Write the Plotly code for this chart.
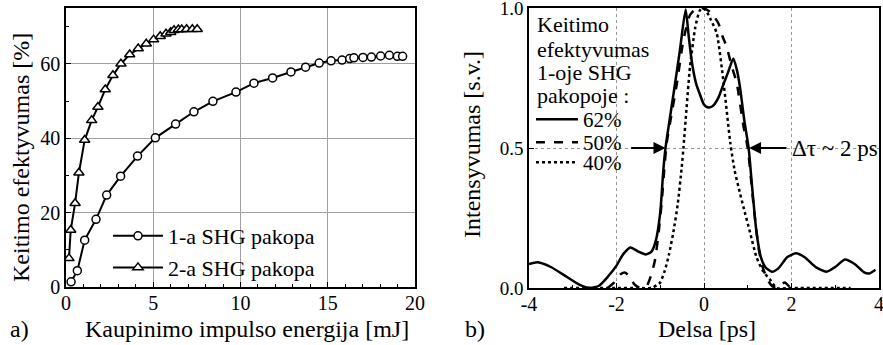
import plotly.graph_objects as go

# ---- data: left panel (conversion efficiency vs pump energy) ----
e1 = [0.29, 0.65, 1.07, 1.72, 2.33, 3.13, 4.1, 5.12, 6.28, 7.33, 8.42, 9.74, 10.77, 11.84,
      12.89, 13.73, 14.51, 15.19, 15.82, 16.26, 16.5, 17.02, 17.5, 18.03, 18.53, 18.99, 19.29]
eff1 = [1.4, 4.4, 12.6, 18.2, 24.7, 29.8, 35.2, 40.1, 43.8, 47.1, 49.9, 52.4, 54.8, 56.2,
        57.8, 59.1, 60.2, 60.8, 61.0, 61.4, 61.6, 61.7, 61.8, 62.1, 62.3, 62.0, 62.0]
e2 = [0.17, 0.27, 0.52, 0.74, 1.07, 1.47, 1.83, 2.25, 2.69, 3.15, 3.65, 4.14, 4.6, 5.02,
      5.4, 5.73, 6.0, 6.19, 6.44, 6.63, 6.91, 7.24, 7.52]
eff2 = [7.7, 15.3, 22.5, 30.7, 39.5, 44.8, 48.4, 53.1, 56.9, 60.0, 62.5, 64.1, 65.4, 66.5,
        67.4, 68.1, 68.5, 69.0, 69.2, 69.2, 69.3, 69.3, 69.3]
left_names = ["1-a SHG pakopa", "2-a SHG pakopa"]

# ---- data: right panel (autocorrelation traces) ----
t62 = [-4.0, -3.8, -3.5, -3.14, -2.85, -2.6, -2.4, -2.2, -2.0, -1.85, -1.68, -1.5, -1.33, -1.2,
       -1.1, -1.0, -0.93, -0.88, -0.7, -0.55, -0.42, -0.35, -0.28, -0.18, -0.09, 0.0, 0.10, 0.2,
       0.33, 0.45, 0.55, 0.67, 0.75, 0.82, 0.92, 1.02, 1.1, 1.2, 1.3, 1.4, 1.55, 1.7, 1.9, 2.1,
       2.3, 2.55, 2.8, 3.0, 3.22, 3.45, 3.65, 3.78, 3.92]
i62 = [0.086, 0.092, 0.075, 0.04, 0.012, 0.0, 0.008, 0.04, 0.08, 0.12, 0.145, 0.13, 0.12, 0.13,
       0.17, 0.27, 0.42, 0.5, 0.69, 0.85, 0.995, 0.9, 0.81, 0.73, 0.69, 0.655, 0.645, 0.65,
       0.68, 0.73, 0.77, 0.82, 0.78, 0.72, 0.6, 0.5, 0.36, 0.2, 0.11, 0.075, 0.058, 0.07, 0.11,
       0.124, 0.11, 0.075, 0.058, 0.075, 0.102, 0.085, 0.057, 0.052, 0.065]
t50 = [-2.2, -2.05, -1.9, -1.8, -1.7, -1.6, -1.5, -1.4, -1.3, -1.2, -1.12, -1.05, -0.97, -0.9,
       -0.85, -0.72, -0.62, -0.47, -0.32, -0.2, -0.05, 0.05, 0.14, 0.25, 0.33, 0.42, 0.52, 0.62,
       0.75, 0.9, 1.0, 1.08, 1.15, 1.25, 1.35, 1.45, 1.55, 1.65, 1.75, 1.85, 1.95, 2.05]
i50 = [0.0, 0.02, 0.05, 0.055, 0.04, 0.015, 0.003, 0.0, 0.01, 0.05, 0.1, 0.18, 0.3, 0.44,
       0.52, 0.64, 0.73, 0.886, 0.975, 0.995, 1.0, 0.995, 0.985, 0.965, 0.945, 0.9, 0.86, 0.8,
       0.73, 0.58, 0.5, 0.38, 0.27, 0.14, 0.07, 0.03, 0.008, 0.0, 0.01, 0.02, 0.005, 0.0]
t40 = [-3.2, -2.0, -1.5, -1.2, -1.08, -1.0, -0.9, -0.8, -0.7, -0.6, -0.51, -0.47, -0.4, -0.32,
       -0.2, -0.1, -0.03, 0.05, 0.15, 0.29, 0.45, 0.6, 0.7, 0.82, 0.9, 1.05, 1.2, 1.35, 1.51,
       1.66, 2.0, 3.35]
i40 = [0.0, 0.0, 0.0, 0.0, 0.01, 0.02, 0.06, 0.12, 0.2, 0.3, 0.43, 0.5, 0.64, 0.79,
       0.93, 0.99, 1.0, 0.99, 0.96, 0.91, 0.73, 0.52, 0.42, 0.34, 0.29, 0.2, 0.11, 0.06, 0.03,
       0.0, 0.0, 0.0]
right_names = ["62%", "50%", "40%"]
right_legend_title = ["Keitimo", "efektyvumas", "1-oje SHG", "pakopoje :"]

x_left_ticks = [0, 5, 10, 15, 20]
y_left_ticks = [0, 20, 40, 60]
x_right_ticks = [-4, -2, 0, 2, 4]
x_right_text = ["-4", "-2", "0", "2", "4"]
y_right_ticks = [0.0, 0.5, 1.0]
y_right_text = ["0.0", "0.5", "1.0"]

FONT = "Liberation Serif"
F_TICK = dict(family=FONT, size=20, color="black")
F_TICK_R = dict(family=FONT, size=19, color="black")
F_TITLE = dict(family=FONT, size=24, color="black")
F_LEG = dict(family=FONT, size=22, color="black")
F_LEG_R = dict(family=FONT, size=21, color="black")
F_NOTE = dict(family=FONT, size=23, color="black")

fig = go.Figure()

fig.add_trace(go.Scatter(x=e1, y=eff1, mode="lines+markers", name=left_names[0],
                         line=dict(color="black", width=2),
                         marker=dict(symbol="circle", size=8, color="white",
                                     line=dict(color="black", width=1.5)),
                         xaxis="x", yaxis="y", legend="legend"))
fig.add_trace(go.Scatter(x=e2, y=eff2, mode="lines+markers", name=left_names[1],
                         line=dict(color="black", width=2),
                         marker=dict(symbol="triangle-up", size=9, color="white",
                                     line=dict(color="black", width=1.5)),
                         xaxis="x", yaxis="y", legend="legend"))

fig.add_trace(go.Scatter(x=t62, y=i62, mode="lines", name=right_names[0],
                         line=dict(color="black", width=2.5, shape="spline", smoothing=0.6),
                         xaxis="x2", yaxis="y2", legend="legend2"))
fig.add_trace(go.Scatter(x=t50, y=i50, mode="lines", name=right_names[1],
                         line=dict(color="black", width=2.5, dash="dash", shape="spline", smoothing=0.6),
                         xaxis="x2", yaxis="y2", legend="legend3"))
fig.add_trace(go.Scatter(x=t40, y=i40, mode="lines", name=right_names[2],
                         line=dict(color="black", width=2.5, dash="dot", shape="spline", smoothing=0.6),
                         xaxis="x2", yaxis="y2", legend="legend4"))

W, H = 883, 345
axis_common = dict(showline=True, linecolor="black", linewidth=1.5, mirror=True,
                   ticks="inside", ticklen=5, tickcolor="black", ticklabeloverflow="allow",
                   zeroline=False, automargin=False)


def right_leg(top_px):
    return dict(x=531 / W, y=1 - top_px / H, xanchor="left", yanchor="top",
                bgcolor="rgba(0,0,0,0)", font=F_LEG_R, itemwidth=42, tracegroupgap=0)


fig.update_layout(
    template="none",
    width=W, height=H, margin=dict(l=0, r=0, t=0, b=0),
    paper_bgcolor="white", plot_bgcolor="white",
    font=F_TICK,
    xaxis=dict(domain=[66 / W, 415 / W], range=[0, 20], tickvals=x_left_ticks,
               showgrid=True, gridcolor="#a0a0a0", gridwidth=1, ticklabelstandoff=-3,
               tickfont=F_TICK,
               minor=dict(dtick=1, ticks="inside", ticklen=3, tickcolor="black", showgrid=False),
               anchor="y", **axis_common),
    yaxis=dict(domain=[1 - 287 / H, 1 - 8 / H], range=[0, 75], tickvals=y_left_ticks,
               showgrid=True, gridcolor="#a0a0a0", gridwidth=1, tickfont=F_TICK,
               minor=dict(dtick=10, ticks="inside", ticklen=3, tickcolor="black", showgrid=False),
               anchor="x", **axis_common),
    xaxis2=dict(domain=[529 / W, 879 / W], range=[-4, 4], tickvals=x_right_ticks,
                ticktext=x_right_text, ticklabelstandoff=-3, tickfont=F_TICK,
                showgrid=True, gridcolor="#999999", gridwidth=1, griddash="dot",
                minor=dict(dtick=1, ticks="inside", ticklen=3, tickcolor="black", showgrid=False),
                anchor="y2", **axis_common),
    yaxis2=dict(domain=[1 - 288 / H, 1 - 8 / H], range=[0, 1.0], tickvals=y_right_ticks,
                ticktext=y_right_text, tickfont=F_TICK_R,
                showgrid=True, gridcolor="#999999", gridwidth=1, griddash="dot",
                anchor="x2", **axis_common),
    legend=dict(x=108 / W, y=1 - 215 / H, xanchor="left", yanchor="top",
                bgcolor="rgba(0,0,0,0)", font=F_LEG,
                itemwidth=50, tracegroupgap=0),
    legend2=right_leg(99),
    legend3=right_leg(122),
    legend4=right_leg(142),
    showlegend=True,
)

ann = []
ann.append(dict(text="Keitimo efektyvumas [%]", x=21 / W, y=1 - 158 / H, xref="paper", yref="paper",
                textangle=-90, showarrow=False, xanchor="center", yanchor="middle", font=F_TITLE))
ann.append(dict(text="Kaupinimo impulso energija [mJ]", x=247 / W, y=1 - 329 / H, xref="paper",
                yref="paper", showarrow=False, xanchor="center", yanchor="middle", font=F_TITLE))
ann.append(dict(text="a)", x=8 / W, y=1 - 329 / H, xref="paper", yref="paper", showarrow=False,
                xanchor="left", yanchor="middle", font=F_TITLE))
ann.append(dict(text="Intensyvumas [s.v.]", x=472 / W, y=1 - 145 / H, xref="paper", yref="paper",
                textangle=-90, showarrow=False, xanchor="center", yanchor="middle", font=F_TITLE))
ann.append(dict(text="Delsa [ps]", x=707 / W, y=1 - 329 / H, xref="paper", yref="paper",
                showarrow=False, xanchor="center", yanchor="middle", font=F_TITLE))
ann.append(dict(text="b)", x=463 / W, y=1 - 329 / H, xref="paper", yref="paper", showarrow=False,
                xanchor="left", yanchor="middle", font=F_TITLE))
# legend title lines of the right panel
for line, ypx in zip(right_legend_title, [25, 49, 73, 96]):
    ann.append(dict(text=line, x=535 / W, y=1 - ypx / H, xref="paper", yref="paper",
                    showarrow=False, xanchor="left", yanchor="middle", font=F_LEG))
# FWHM arrows
ann.append(dict(text="", x=-0.88, y=0.5, xref="x2", yref="y2", ax=-1.7, ay=0.5, axref="x2",
                ayref="y2", showarrow=True, arrowhead=2, arrowsize=1.2, arrowwidth=2,
                arrowcolor="black"))
ann.append(dict(text="", x=1.03, y=0.5, xref="x2", yref="y2", ax=1.92, ay=0.5, axref="x2",
                ayref="y2", showarrow=True, arrowhead=2, arrowsize=1.2, arrowwidth=2,
                arrowcolor="black"))
ann.append(dict(text="Δτ ~ 2 ps", x=1.97, y=0.5, xref="x2", yref="y2", showarrow=False,
                xanchor="left", yanchor="middle", font=F_NOTE))
fig.update_layout(annotations=ann)

fig.write_html("out.html")
